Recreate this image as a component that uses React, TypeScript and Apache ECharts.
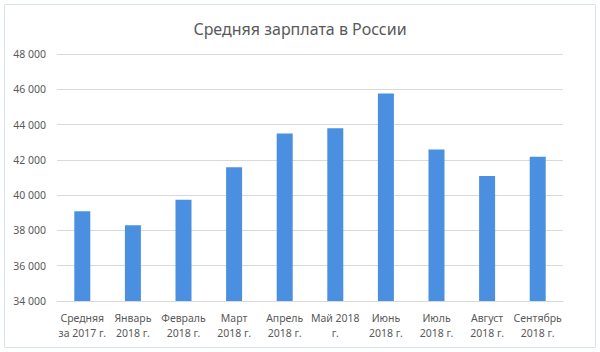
import React, { useEffect, useRef } from "react";
import * as echarts from "echarts";

const categories = [
  "Средняя\nза 2017 г.",
  "Январь\n2018 г.",
  "Февраль\n2018 г.",
  "Март\n2018 г.",
  "Апрель\n2018 г.",
  "Май 2018\nг.",
  "Июнь\n2018 г.",
  "Июль\n2018 г.",
  "Август\n2018 г.",
  "Сентябрь\n2018 г.",
];
const salaries = [39085, 38290, 39739, 41579, 43490, 43788, 45760, 42588, 41080, 42170];
const yMin = 34000;
const yMax = 48000;
const yStep = 2000;

const FONT = "'Noto Sans', 'Open Sans', sans-serif";

export default function App() {
  const ref = useRef<HTMLDivElement>(null);
  useEffect(() => {
    if (!ref.current) return;
    const chart = echarts.init(ref.current, undefined, { renderer: "svg" });
    chart.setOption({
      animation: false,
      backgroundColor: "#ffffff",
      title: {
        text: "Средняя зарплата в России",
        left: "center",
        top: 16,
        textStyle: { fontFamily: FONT, fontSize: 16, fontWeight: "normal", color: "#595959" },
      },
      graphic: [
        {
          type: "rect",
          shape: { x: 4.5, y: 4.5, width: 591, height: 343 },
          style: { fill: "none", stroke: "#d6e6ec", lineWidth: 1 },
          silent: true,
        },
      ],
      grid: { left: 57, right: 37, top: 54, bottom: 51 },
      xAxis: {
        type: "category",
        data: categories,
        axisLine: { lineStyle: { color: "#d9d9d9" } },
        axisTick: { show: false },
        axisLabel: {
          interval: 0,
          fontFamily: FONT,
          fontSize: 10.5,
          color: "#595959",
          lineHeight: 15,
          margin: 9,
        },
      },
      yAxis: {
        type: "value",
        min: yMin,
        max: yMax,
        interval: yStep,
        axisLine: { show: false },
        axisTick: { show: false },
        splitLine: { lineStyle: { color: "#d9d9d9" } },
        axisLabel: {
          fontFamily: FONT,
          fontSize: 10.5,
          color: "#595959",
          margin: 11,
          formatter: (v: number) => String(v).replace(/\B(?=(\d{3})+(?!\d))/g, " "),
        },
      },
      series: [
        {
          type: "bar",
          data: salaries,
          barWidth: 16,
          itemStyle: { color: "#4b8fe0" },
        },
      ],
    });
    return () => chart.dispose();
  }, []);
  return (
    <div
      ref={ref}
      style={{ position: "fixed", left: 0, top: 0, width: 600, height: 352 }}
    />
  );
}
